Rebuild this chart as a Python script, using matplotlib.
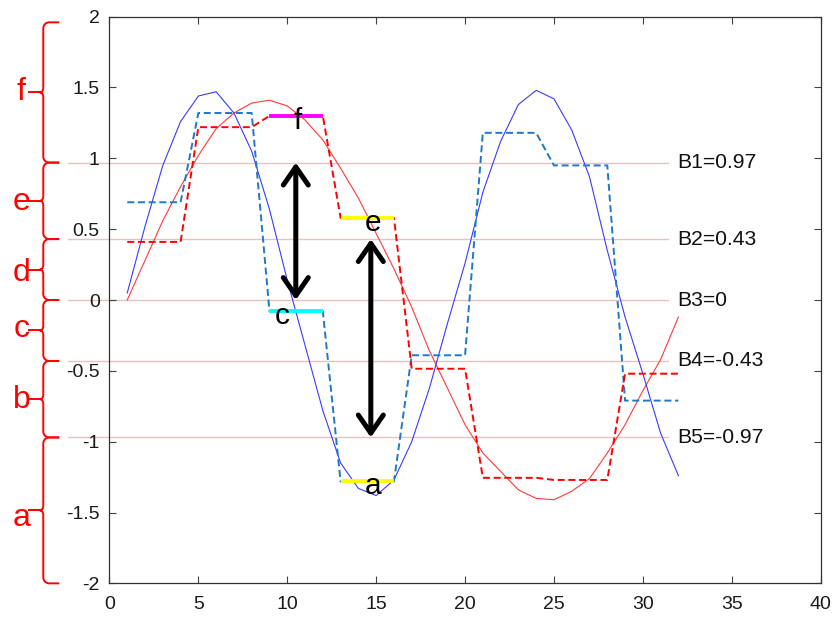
import numpy as np
import matplotlib
matplotlib.use("Agg")
import matplotlib.pyplot as plt
from matplotlib.patches import FancyArrowPatch, ArrowStyle

plt.rcParams['font.family'] = ['Liberation Sans', 'DejaVu Sans']

# ---- data -------------------------------------------------------------
t = np.arange(1, 33)
series_blue = [0.05, 0.52, 0.95, 1.26, 1.44, 1.47, 1.32, 1.05,
               0.64, 0.14, -0.32, -0.78, -1.15, -1.33, -1.38, -1.27,
               -1.00, -0.62, -0.17, 0.26, 0.76, 1.12, 1.38, 1.48,
               1.42, 1.20, 0.87, 0.35, -0.12, -0.52, -0.94, -1.24]
series_red = [0.00, 0.28, 0.56, 0.80, 1.02, 1.21, 1.32, 1.39,
              1.41, 1.37, 1.27, 1.13, 0.93, 0.72, 0.47, 0.22,
              -0.05, -0.36, -0.62, -0.88, -1.08, -1.21, -1.34, -1.40,
              -1.41, -1.35, -1.26, -1.08, -0.88, -0.64, -0.42, -0.12]
seg_len = 4
paa_blue = [0.69, 1.32, -0.08, -1.28, -0.39, 1.18, 0.95, -0.71]
paa_red = [0.41, 1.22, 1.30, 0.58, -0.485, -1.255, -1.27, -0.52]

breakpoints = [0.97, 0.43, 0.0, -0.43, -0.97]
bp_names = ['B1', 'B2', 'B3', 'B4', 'B5']
bp_texts = ['0.97', '0.43', '0', '-0.43', '-0.97']

symbols = ['f', 'e', 'd', 'c', 'b', 'a']
symbol_bounds = [(1.96, 0.97), (0.97, 0.43), (0.43, 0.0),
                 (0.0, -0.43), (-0.43, -0.97), (-0.97, -2.0)]
symbol_baselines = [1.41, 0.635, 0.136, -0.26, -0.76, -1.595]

# highlighted PAA segments: (series, segment index, letter, colour, letter x)
highlights = [('red', 2, 'f', '#ff00ff', 10.6),
              ('red', 3, 'e', '#ffff00', 14.8),
              ('blue', 2, 'c', '#00ffff', 9.7),
              ('blue', 3, 'a', '#ffff00', 14.8)]

# distance arrows between breakpoints: (x, from, to)
arrows = [(10.48, breakpoints[0], breakpoints[2]),
          (14.7, breakpoints[1], breakpoints[4])]

x_ticks = list(range(0, 41, 5))
y_ticks = [-2, -1.5, -1, -0.5, 0, 0.5, 1, 1.5, 2]
y_tick_labels = ['-2', '-1.5', '-1', '-0.5', '0', '0.5', '1', '1.5', '2']

# ---- figure -----------------------------------------------------------
fig = plt.figure(figsize=(8.35, 6.17), dpi=100)
ax = fig.add_axes([0.1311, 0.0545, 0.8517, 0.9185])
ax.set_xlim(0, 40)
ax.set_ylim(-2, 2)
ax.set_xticks(x_ticks)
ax.set_xticklabels([str(v) for v in x_ticks])
ax.set_yticks(y_ticks)
ax.set_yticklabels(y_tick_labels)
ax.tick_params(direction='in', length=5, width=0.8, top=True, right=True,
               labelsize=14, pad=7, color='#444444', labelcolor='#1a1a1a')
ax.tick_params(axis='x', pad=9)
for s in ax.spines.values():
    s.set_color('#333333')
    s.set_linewidth(0.9)

ax_left_px = 109.5


def px_to_frac(px):
    return (px - ax_left_px) / 711.2


ytrans = ax.get_yaxis_transform()

# breakpoint lines and labels
for name, val, txt in zip(bp_names, breakpoints, bp_texts):
    ax.plot([px_to_frac(68), px_to_frac(668)], [val, val], color='#e8c2c2',
            lw=1.0, transform=ytrans, clip_on=False, zorder=1)
    ax.text(31.95, val, f'{name}={txt}', fontsize=15.2, ha='left',
            va='center', color='#111111')

# raw series
ax.plot(t, series_red, color='#ff3a3a', lw=0.8, zorder=2)
ax.plot(t, series_blue, color='#3a3aff', lw=0.8, zorder=2)

# PAA approximations
paa_blue_line = np.repeat(paa_blue, seg_len)
paa_red_line = np.repeat(paa_red, seg_len)
ax.plot(t, paa_blue_line, color='#1f78c8', lw=1.4,
        linestyle=(0, (3.6, 1.9)), zorder=3)
ax.plot(t, paa_red_line, color='#ff0000', lw=1.4,
        linestyle=(0, (3.6, 1.9)), zorder=3)

# highlighted segments with their symbols
for series, idx, letter, col, lx in highlights:
    val = (paa_red if series == 'red' else paa_blue)[idx]
    xs = t[idx * seg_len:(idx + 1) * seg_len]
    ax.plot([xs[0], xs[-1]], [val, val], color=col, lw=2.8,
            solid_capstyle='butt', zorder=4)
    ax.text(lx, val - 0.09, letter, fontsize=21.5, ha='center',
            va='baseline', color='black', zorder=6)

# double-headed distance arrows
for ax_x, y0, y1 in arrows:
    arr = FancyArrowPatch((ax_x, y0), (ax_x, y1),
                          arrowstyle=ArrowStyle('<->', head_length=0.65,
                                                head_width=0.45),
                          mutation_scale=20, lw=3.6, color='black',
                          shrinkA=0, shrinkB=0, zorder=5)
    ax.add_patch(arr)

# symbol braces on the left
ry_unit = 1.0 / 141.7  # data units per pixel vertically


def brace(ytop, ybot):
    xv, xt, xn = 43.3, 58.3, 40.0
    r = 6.0
    rn = 4.5
    ym = (ytop + ybot) / 2.0
    pts = [(xt, ytop)]
    th = np.linspace(np.pi / 2, np.pi, 12)
    pts += list(zip(xv + r + r * np.cos(th),
                    ytop - r * ry_unit + r * ry_unit * np.sin(th)))
    th = np.linspace(0, -np.pi / 2, 10)
    pts += list(zip(xn + (xv - xn) * np.cos(th),
                    ym + rn * ry_unit + rn * ry_unit * np.sin(th)))
    th = np.linspace(np.pi / 2, 0, 10)
    pts += list(zip(xn + (xv - xn) * np.cos(th),
                    ym - rn * ry_unit + rn * ry_unit * np.sin(th)))
    th = np.linspace(np.pi, 3 * np.pi / 2, 12)
    pts += list(zip(xv + r + r * np.cos(th),
                    ybot + r * ry_unit + r * ry_unit * np.sin(th)))
    pts.append((xt, ybot))
    xs = [px_to_frac(p[0]) for p in pts]
    ys = [p[1] for p in pts]
    ax.plot(xs, ys, color='#ff0000', lw=1.4, transform=ytrans,
            clip_on=False, solid_joinstyle='round')
    ax.plot([px_to_frac(29.3), px_to_frac(xn)], [ym, ym], color='#ff0000',
            lw=1.4, transform=ytrans, clip_on=False)


for letter, (ytop, ybot), yb in zip(symbols, symbol_bounds, symbol_baselines):
    brace(ytop, ybot)
    ax.text(px_to_frac(21.5), yb, letter, fontsize=23, color='#ff0000',
            ha='center', va='baseline', transform=ytrans)

fig.savefig('out.png', dpi=100)
